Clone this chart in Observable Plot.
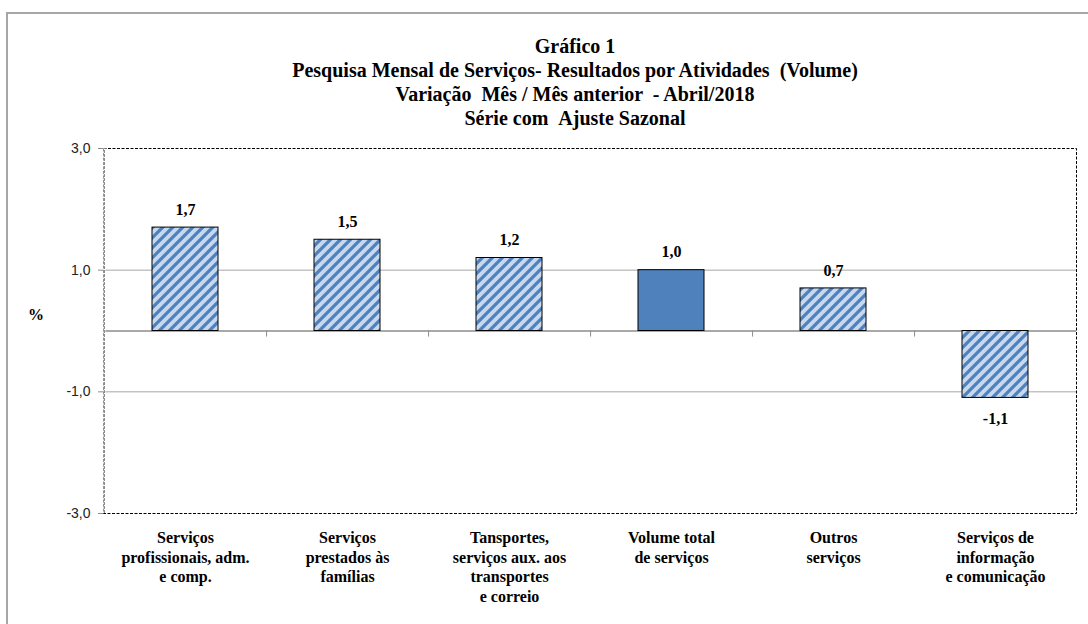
<!DOCTYPE html>
<html><head><meta charset="utf-8">
<script src="https://cdn.jsdelivr.net/npm/d3@7"></script>
<script src="https://cdn.jsdelivr.net/npm/@observablehq/plot@0.6"></script>
<style>
html,body{margin:0;padding:0;background:#fff;overflow:hidden;}
#wrap{position:relative;width:1088px;height:624px;overflow:hidden;background:#fff;}
#outer{position:absolute;left:6px;top:12px;width:2000px;height:2000px;border:2px solid #a6a6a6;box-sizing:border-box;}
#chart{position:absolute;left:0;top:0;}
#title{position:absolute;left:175px;width:800px;top:34px;text-align:center;font-family:"Liberation Serif",serif;font-weight:bold;font-size:20px;line-height:24px;color:#000;}
#pct{position:absolute;left:28px;top:305px;font-family:"Liberation Serif",serif;font-weight:bold;font-size:16px;line-height:20px;}
</style></head>
<body><div id="wrap"><div id="outer"></div><div id="chart"></div><div id="title"></div><div id="pct">%</div></div>
<script>
const titleLines = [
  "Gráfico 1",
  "Pesquisa Mensal de Serviços- Resultados por Atividades  (Volume)",
  "Variação  Mês / Mês anterior  - Abril/2018",
  "Série com  Ajuste Sazonal"
];
const categories = [
  "Serviços\nprofissionais, adm.\ne comp.",
  "Serviços\nprestados às\nfamílias",
  "Tansportes,\nserviços aux. aos\ntransportes\ne correio",
  "Volume total\nde serviços",
  "Outros\nserviços",
  "Serviços de\ninformação\ne comunicação"
];
const values = [1.7, 1.5, 1.2, 1.0, 0.7, -1.1];
const isTotal = [false, false, false, true, false, false];
const yTicks = [-3, -1, 1, 3];
const yDomain = [-3, 3];

document.getElementById("title").innerHTML = titleLines.map(s => s.replace(/  /g, " &nbsp;")).join("<br>");

const data = categories.map((c, i) => ({cat: c, value: values[i], total: isTotal[i]}));
const fmt = v => v.toFixed(1).replace(".", ",");

const W = 1088, H = 624, ML = 103, MR = 12, MT = 148, MB = 111;
const step = (W - ML - MR) / categories.length;
const serif = "Liberation Serif, serif";

const defsMark = () => {
  const g = d3.create("svg:g");
  const p = g.append("defs").append("pattern")
    .attr("id", "hatch").attr("patternUnits", "userSpaceOnUse")
    .attr("width", 10).attr("height", 10);
  p.append("rect").attr("width", 10).attr("height", 10).attr("fill", "#c6d9f1");
  p.append("path").attr("d", "M-5,5 L5,-5 M0,10 L10,0 M5,15 L15,5")
    .attr("stroke", "#4f81bd").attr("stroke-width", 3.2);
  return g.node();
};

const chart = Plot.plot({
  width: W, height: H,
  marginLeft: ML, marginRight: MR, marginTop: MT, marginBottom: MB,
  style: {background: "transparent", overflow: "visible"},
  x: {domain: categories, paddingInner: 0.593, paddingOuter: 0.2965, axis: null},
  y: {domain: yDomain, axis: null},
  marks: [
    defsMark,
    Plot.ruleY([-1, 1], {stroke: "#a6a6a6", strokeWidth: 1}),
    Plot.ruleY([0], {stroke: "#8c8c8c", strokeWidth: 1.5}),
    Plot.ruleX(categories.slice(0, -1), {x: d => d, dx: step / 2, y1: 0, y2: -0.1, stroke: "#8c8c8c"}),
    Plot.barY(data.filter(d => !d.total), {x: "cat", y: "value", fill: "url(#hatch)", stroke: "#000", strokeWidth: 1}),
    Plot.barY(data.filter(d => d.total), {x: "cat", y: "value", fill: "#4f81bd", stroke: "#000", strokeWidth: 1}),
    Plot.frame({stroke: "#000", strokeDasharray: "3,1.5"}),
    Plot.ruleX([categories[0]], {x: d => d, dx: -step / 2, y1: -3, y2: 3, stroke: "#fff", strokeWidth: 2}),
    Plot.ruleX([categories[0]], {x: d => d, dx: -step / 2, y1: -3, y2: 3, stroke: "#8c8c8c", strokeDasharray: "3,1", strokeWidth: 1.2}),
    Plot.axisY(yTicks, {tickSize: 5, tickPadding: 8, tickFormat: fmt, stroke: "#8c8c8c", fill: "#222",
      fontSize: 14, fontFamily: "Liberation Sans, sans-serif", label: null}),
    Plot.text(data.filter(d => d.value > 0), {x: "cat", y: "value", text: d => fmt(d.value), dy: -18,
      fontFamily: serif, fontWeight: "bold", fontSize: 16, fill: "#000"}),
    Plot.text(data.filter(d => d.value < 0), {x: "cat", y: "value", text: d => fmt(d.value), dy: 21,
      fontFamily: serif, fontWeight: "bold", fontSize: 16, fill: "#000"}),
    Plot.text(data, {x: "cat", text: "cat", frameAnchor: "bottom", lineAnchor: "top", dy: 16,
      lineHeight: 1.22, fontFamily: serif, fontWeight: "bold", fontSize: 16, fill: "#000"})
  ]
});
document.getElementById("chart").appendChild(chart);
</script>
</body></html>
